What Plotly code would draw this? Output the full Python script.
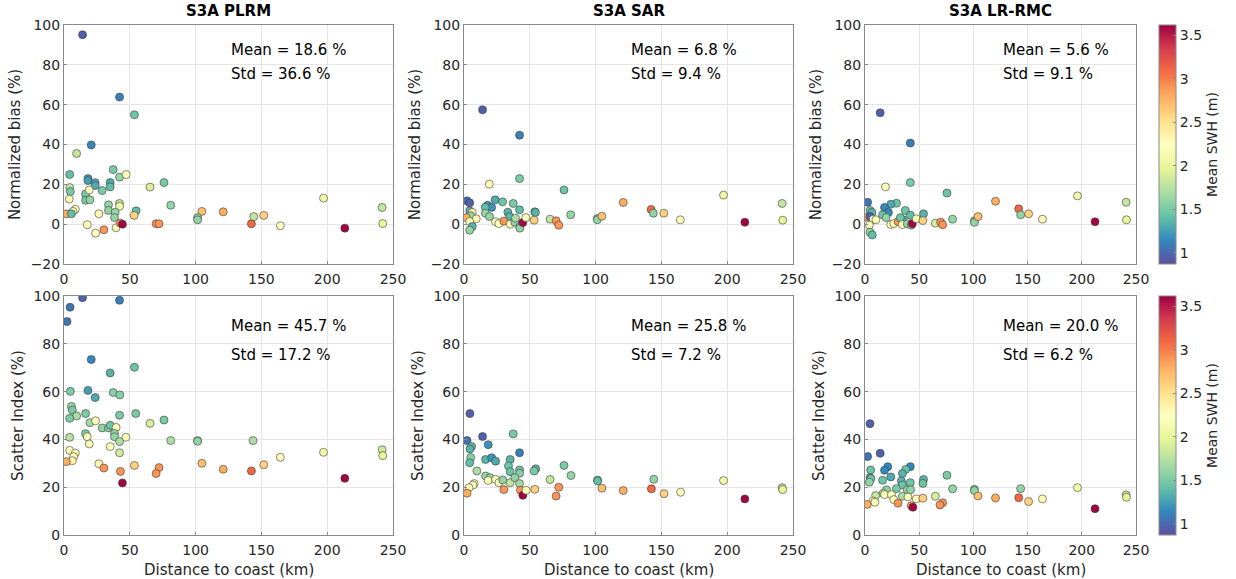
import plotly.graph_objects as go

# ---------------- data ----------------
titles = ["S3A PLRM", "S3A SAR", "S3A LR-RMC"]
bias_mean = [18.6, 6.8, 5.6]
bias_std = [36.6, 9.4, 9.1]
si_mean = [45.7, 25.8, 20.0]
si_std = [17.2, 7.2, 6.2]

# Panel: PLRM bias
plrm_bias_dist = [14.1, 42.2, 53.5, 20.7, 9.6, 4.3, 37.4, 42.2, 47.2, 18.2, 18.2, 23.7, 23.7, 35.1, 35.1, 29.0, 4.3, 4.8, 16.4, 19.2,
                  16.4, 19.7, 4.0, 65.4, 76.0, 81.1, 42.2, 42.2, 33.8, 33.8, 38.9, 54.8, 8.6, 6.8, 1.8, 5.6, 26.5, 38.4, 53.3, 17.7,
                  24.0, 30.3, 39.6, 42.7, 44.4, 70.0, 72.2, 104.8, 101.5, 101.5, 121.0, 142.4, 144.2, 151.8, 164.4, 197.2, 213.4, 241.7, 242.2]
plrm_bias_val = [95.1, 63.8, 54.9, 39.8, 35.5, 24.9, 27.4, 23.6, 24.9, 22.9, 21.9, 20.8, 19.4, 20.9, 18.7, 16.9, 18.4, 16.4, 15.2, 17.2,
                 12.0, 12.2, 12.6, 18.6, 20.9, 9.5, 10.4, 9.0, 9.7, 6.9, 6.0, 6.7, 7.5, 6.4, 5.2, 5.2, 5.2, 3.3, 4.4, -0.3,
                 -4.5, -2.8, -1.8, 0.5, 0.0, 0.2, 0.2, 6.4, 3.3, 2.2, 6.2, 0.2, 3.8, 4.4, -0.8, 13.1, -2.0, 8.4, 0.3]
plrm_bias_swh = [0.95, 1.1, 1.45, 1.15, 1.8, 1.4, 1.5, 1.6, 2.2, 1.25, 1.25, 1.3, 1.3, 1.3, 1.4, 1.5, 1.8, 1.5, 1.5, 2.2,
                 1.5, 1.6, 2.2, 1.9, 1.5, 1.6, 1.8, 2.1, 1.6, 1.6, 1.6, 1.4, 2.2, 2.2, 2.8, 1.4, 2.3, 1.6, 2.6, 2.2,
                 2.2, 2.9, 2.2, 2.9, 3.6, 2.9, 2.9, 2.7, 1.6, 1.6, 2.8, 3.1, 1.8, 2.6, 2.2, 2.1, 3.6, 1.8, 2.0]

# Panel: SAR bias
sar_bias_dist = [14.1, 42.2, 42.2, 19.2, 76.0, 2.3, 4.3, 23.7, 29.3, 37.4, 17.9, 21.0, 16.2, 42.2, 53.8, 54.3, 4.3, 33.3, 34.6, 16.2,
                 19.4, 6.3, 5.1, 1.8, 9.3, 4.3, 6.3, 4.3, 24.0, 26.5, 30.3, 35.1, 38.6, 39.1, 42.4, 42.4, 44.7, 47.0, 53.3, 65.4,
                 70.0, 72.0, 81.1, 101.3, 101.3, 104.8, 121.0, 142.2, 143.9, 151.8, 164.4, 197.2, 213.4, 241.7, 242.2]
sar_bias_val = [57.4, 44.7, 22.9, 20.1, 17.2, 11.7, 10.7, 12.2, 11.2, 10.4, 9.5, 8.4, 8.5, 7.2, 6.2, 5.9, 6.7, 6.0, 3.8, 5.5,
                3.8, 5.9, 4.2, 3.3, 2.7, 1.3, -1.2, -3.0, 1.2, 0.3, 1.5, 0.0, 1.0, 3.0, -1.2, -2.0, 0.8, 3.3, 2.0, 2.5,
                1.7, -0.5, 4.7, 2.8, 2.2, 4.0, 10.9, 7.4, 5.5, 5.5, 2.2, 14.6, 1.0, 10.4, 2.0]
sar_bias_swh = [0.95, 1.1, 1.5, 2.2, 1.45, 1.05, 0.95, 1.3, 1.45, 1.5, 1.2, 1.2, 1.4, 1.4, 1.35, 1.35, 1.35, 1.35, 1.35, 1.6,
                1.6, 2.4, 1.6, 2.8, 2.3, 2.2, 1.35, 1.6, 2.2, 2.2, 2.9, 2.2, 1.6, 1.7, 1.6, 1.6, 3.6, 2.2, 2.6, 1.8,
                2.9, 2.9, 1.6, 1.55, 1.6, 2.7, 2.8, 3.1, 1.6, 2.6, 2.2, 2.1, 3.6, 1.8, 2.0]

# Panel: LR-RMC bias
rmc_bias_dist = [14.0, 41.8, 41.8, 18.9, 75.6, 2.4, 29.0, 23.8, 18.0, 21.6, 37.2, 41.8, 54.0, 16.2, 19.5, 4.6, 6.4, 2.7, 4.6, 7.6,
                 10.1, 4.0, 4.6, 6.7, 23.8, 26.5, 30.5, 34.8, 32.6, 34.5, 39.0, 42.7, 43.6, 47.3, 53.4, 64.9, 69.8, 71.6, 80.8, 100.9,
                 100.9, 104.3, 120.4, 141.8, 143.6, 150.9, 163.7, 196.0, 212.2, 240.9, 241.2]
rmc_bias_val = [55.9, 40.7, 20.9, 18.7, 15.6, 11.0, 10.5, 10.0, 8.4, 5.9, 6.9, 4.5, 5.2, 4.7, 3.3, 6.9, 5.9, 3.5, 3.8, 2.5,
                2.2, -0.5, -4.0, -5.4, -0.2, 0.3, 1.3, 2.3, 3.2, -0.2, 0.2, -0.5, 0.2, 2.7, 1.8, 0.5, 1.0, -0.3, 2.5, 1.7,
                0.9, 3.8, 11.5, 7.7, 4.7, 5.2, 2.5, 14.2, 1.2, 11.0, 2.2]
rmc_bias_swh = [0.95, 1.1, 1.5, 2.2, 1.45, 1.05, 1.45, 1.3, 1.15, 1.15, 1.45, 1.4, 1.35, 1.45, 1.6, 1.45, 1.35, 2.8, 0.95, 2.2,
                2.2, 2.2, 1.6, 1.4, 2.2, 2.2, 2.9, 1.35, 1.45, 2.2, 1.6, 1.6, 3.6, 2.2, 2.6, 1.9, 2.9, 2.9, 1.6, 1.55,
                1.6, 2.7, 2.8, 3.1, 1.6, 2.6, 2.2, 2.1, 3.6, 1.8, 2.0]

# Panel: PLRM scatter index
plrm_si_dist = [14.1, 42.2, 4.6, 2.3, 20.7, 35.1, 53.5, 4.8, 18.2, 23.7, 37.4, 42.4, 5.6, 6.3, 9.6, 16.4, 4.3, 42.2, 54.5, 65.4,
                76.0, 19.7, 24.0, 29.0, 33.8, 35.1, 39.6, 38.4, 38.4, 16.4, 17.7, 47.0, 42.2, 4.3, 81.1, 101.5, 101.5, 143.7, 19.2, 35.1,
                42.2, 4.3, 8.6, 7.3, 6.3, 1.8, 26.5, 30.3, 42.9, 44.4, 53.5, 72.2, 70.0, 104.8, 121.0, 142.4, 151.8, 164.4, 197.2, 213.4,
                241.7, 242.2]
plrm_si_val = [99.3, 98.2, 95.3, 89.3, 73.4, 67.8, 70.2, 60.1, 60.5, 57.5, 59.6, 58.6, 53.8, 52.3, 49.8, 50.8, 48.8, 50.1, 50.8, 46.7,
               48.1, 47.0, 47.8, 44.8, 44.8, 45.9, 45.0, 42.5, 41.1, 42.4, 41.1, 40.9, 39.1, 40.9, 39.5, 39.5, 39.2, 39.5, 38.1, 37.0,
               34.4, 35.4, 34.3, 32.8, 31.1, 30.7, 29.8, 28.0, 26.6, 21.8, 29.1, 28.2, 25.7, 30.0, 27.5, 26.8, 29.4, 32.5, 34.6, 23.7,
               35.7, 33.2]
plrm_si_swh = [0.95, 1.1, 1.05, 1.05, 1.15, 1.35, 1.45, 1.5, 1.25, 1.3, 1.55, 1.55, 1.6, 1.5, 1.7, 1.5, 1.5, 1.5, 1.5, 1.9,
               1.5, 1.65, 2.2, 1.6, 1.55, 1.45, 2.2, 1.6, 1.6, 1.5, 2.2, 2.2, 1.7, 1.75, 1.7, 1.65, 1.6, 1.7, 2.2, 2.2,
               1.85, 2.2, 2.2, 2.3, 2.3, 2.8, 2.3, 2.9, 2.9, 3.6, 2.6, 2.9, 2.9, 2.7, 2.8, 3.1, 2.6, 2.2, 2.1, 3.6,
               1.85, 2.0]

# Panel: SAR scatter index
sar_si_dist = [4.5, 2.3, 14.1, 18.4, 37.4, 5.8, 4.5, 42.2, 5.1, 4.3, 16.4, 21.0, 24.0, 35.1, 33.8, 35.1, 42.2, 42.2, 54.5, 53.3,
               76.0, 9.8, 16.4, 19.7, 18.4, 24.0, 26.5, 29.5, 35.1, 38.6, 42.2, 7.8, 6.8, 3.8, 2.3, 30.3, 42.9, 44.7, 47.2, 53.8,
               65.4, 72.0, 70.0, 81.3, 101.5, 101.5, 104.8, 121.0, 142.4, 144.2, 152.0, 164.6, 197.2, 213.4, 241.7, 242.2]
sar_si_val = [50.8, 39.5, 41.2, 37.8, 42.3, 37.0, 36.0, 34.4, 32.4, 30.2, 31.6, 32.3, 30.9, 31.6, 28.9, 26.5, 27.2, 25.8, 27.7, 26.8,
              29.1, 26.8, 24.7, 24.0, 22.8, 23.3, 21.9, 23.0, 21.9, 24.0, 21.5, 21.5, 20.9, 19.8, 17.5, 19.0, 18.7, 16.6, 18.7, 19.1,
              23.2, 20.0, 16.3, 24.9, 23.0, 22.6, 19.6, 18.6, 19.3, 23.3, 17.3, 17.9, 22.8, 15.1, 19.8, 19.0]
sar_si_swh = [0.95, 1.05, 0.95, 1.2, 1.5, 1.4, 1.35, 1.1, 1.55, 1.4, 1.35, 1.2, 1.3, 1.35, 1.45, 1.45, 1.45, 1.55, 1.35, 1.5,
              1.5, 1.7, 1.6, 1.6, 2.2, 2.2, 2.2, 1.6, 1.8, 1.6, 1.65, 2.2, 2.2, 2.3, 2.8, 2.9, 2.9, 3.6, 2.2, 2.6,
              1.8, 2.9, 2.9, 1.6, 1.6, 1.4, 2.7, 2.8, 3.1, 1.6, 2.6, 2.2, 2.1, 3.6, 1.8, 2.0]

# Panel: LR-RMC scatter index
rmc_si_dist = [4.6, 2.4, 14.0, 21.0, 18.0, 41.8, 37.5, 34.5, 5.2, 4.6, 5.5, 4.0, 23.8, 16.2, 33.5, 34.5, 41.8, 54.0, 53.4, 75.6,
               29.0, 19.8, 39.0, 42.0, 16.8, 18.0, 24.4, 26.5, 34.5, 39.6, 47.3, 53.4, 9.8, 7.6, 9.1, 2.1, 30.5, 42.7, 44.2, 64.9,
               80.8, 71.6, 69.2, 100.9, 100.9, 104.3, 120.4, 141.8, 143.6, 150.9, 163.7, 196.0, 212.2, 240.9, 241.2]
rmc_si_val = [46.6, 32.8, 34.2, 28.6, 27.1, 28.6, 27.4, 25.7, 27.2, 24.0, 23.6, 22.1, 24.3, 22.9, 22.6, 20.9, 21.9, 23.2, 21.6, 25.0,
              19.4, 18.9, 18.9, 18.9, 17.5, 16.9, 16.9, 14.8, 16.2, 15.9, 15.1, 15.4, 16.5, 14.2, 13.7, 12.8, 13.3, 12.2, 11.6, 16.2,
              19.3, 13.5, 12.6, 19.1, 18.6, 16.3, 15.5, 15.6, 19.4, 14.0, 15.1, 19.8, 11.0, 16.8, 15.8]
rmc_si_swh = [0.95, 1.05, 0.95, 1.15, 1.15, 1.15, 1.45, 1.35, 1.45, 1.3, 1.45, 1.6, 1.3, 1.45, 1.35, 1.45, 1.45, 1.35, 1.45, 1.5,
              1.5, 1.6, 1.6, 1.6, 1.7, 2.2, 2.2, 2.2, 1.7, 2.2, 2.2, 2.6, 1.8, 2.2, 2.2, 2.8, 2.9, 2.9, 3.6, 1.9,
              1.6, 2.9, 2.9, 1.55, 1.6, 2.7, 2.8, 3.1, 1.6, 2.6, 2.2, 2.1, 3.6, 1.8, 2.0]

x_ticks = [0, 50, 100, 150, 200, 250]
bias_ticks = [-20, 0, 20, 40, 60, 80, 100]
si_ticks = [0, 20, 40, 60, 80, 100]
cbar_ticks = [1, 1.5, 2, 2.5, 3, 3.5]
swh_range = [0.87, 3.62]

# ---------------- layout geometry ----------------
W, H = 1236, 579
col_px = [(64, 393), (464, 793), (865, 1136)]
row_px = [(25, 264), (296, 535)]

def xd(c):
    a, b = col_px[c]
    return [a / W, b / W]

def yd(r):
    a, b = row_px[r]
    return [1 - b / H, 1 - a / H]

FONT = "DejaVu Sans"
TXT = "#262626"
AXC = "#8a8a8a"
GRID = "#e6e6e6"

fig = go.Figure()

panels = [
    (0, 0, plrm_bias_dist, plrm_bias_val, plrm_bias_swh),
    (0, 1, sar_bias_dist, sar_bias_val, sar_bias_swh),
    (0, 2, rmc_bias_dist, rmc_bias_val, rmc_bias_swh),
    (1, 0, plrm_si_dist, plrm_si_val, plrm_si_swh),
    (1, 1, sar_si_dist, sar_si_val, sar_si_swh),
    (1, 2, rmc_si_dist, rmc_si_val, rmc_si_swh),
]

layout = dict(
    width=W, height=H, margin=dict(l=0, r=0, t=0, b=0, autoexpand=False),
    paper_bgcolor="white", plot_bgcolor="white",
    font=dict(family=FONT, size=14, color=TXT),
    showlegend=False,
)

annotations = []
for k, (r, c, xs, ys, cs) in enumerate(panels):
    idx = k + 1
    xa = "x" if idx == 1 else f"x{idx}"
    ya = "y" if idx == 1 else f"y{idx}"
    fig.add_trace(go.Scatter(
        x=xs, y=ys, mode="markers", xaxis=xa, yaxis=ya,
        marker=dict(size=8, color=cs, coloraxis="coloraxis" if r == 0 else "coloraxis2",
                    line=dict(color="#3a3a3a", width=0.6)),
        hoverinfo="skip",
    ))
    xkey = "xaxis" if idx == 1 else f"xaxis{idx}"
    ykey = "yaxis" if idx == 1 else f"yaxis{idx}"
    layout[xkey] = dict(
        domain=xd(c), anchor=ya, range=[0, 250], tickvals=x_ticks,
        showgrid=True, gridcolor=GRID, zeroline=False,
        showline=True, linecolor=AXC, linewidth=1, mirror=True,
        ticks="inside", ticklen=3, tickcolor=AXC, ticklabelstandoff=2,
        tickfont=dict(size=14, color=TXT), automargin=False,
    )
    layout[ykey] = dict(
        domain=yd(r), anchor=xa, range=[-20, 100] if r == 0 else [0, 100],
        tickvals=bias_ticks if r == 0 else si_ticks,
        showgrid=True, gridcolor=GRID, zeroline=False,
        showline=True, linecolor=AXC, linewidth=1, mirror=True,
        ticks="inside", ticklen=3, tickcolor=AXC,
        tickfont=dict(size=14, color=TXT), automargin=False,
        title=dict(text="Normalized bias (%)" if r == 0 else "Scatter Index (%)",
                   font=dict(size=15, color=TXT), standoff=6),
    )
    mean = bias_mean[c] if r == 0 else si_mean[c]
    std = bias_std[c] if r == 0 else si_std[c]
    annotations.append(dict(x=125, y=87.5, xref=xa, yref=ya, xanchor="left", yanchor="middle",
                            text=f"Mean = {mean:.1f} %", showarrow=False, font=dict(size=15, color="black")))
    annotations.append(dict(x=125, y=75.5, xref=xa, yref=ya, xanchor="left", yanchor="middle",
                            text=f"Std = {std:.1f} %", showarrow=False, font=dict(size=15, color="black")))
    a, b = col_px[c]
    if r == 0:
        annotations.append(dict(x=(a + b) / 2 / W, y=1 - 11 / H, xref="paper", yref="paper",
                                xanchor="center", yanchor="middle", showarrow=False,
                                text=f"<b>{titles[c]}</b>", font=dict(size=15, color="black")))
    else:
        annotations.append(dict(x=(a + b) / 2 / W, y=1 - 570 / H, xref="paper", yref="paper",
                                xanchor="center", yanchor="middle", showarrow=False,
                                text="Distance to coast (km)", font=dict(size=15, color=TXT)))

def cbar(r):
    a, b = row_px[r]
    return dict(
        colorscale="Spectral_r", cmin=swh_range[0], cmax=swh_range[1],
        colorbar=dict(
            x=1159 / W, xanchor="left", y=1 - a / H, yanchor="top",
            len=(b - a) / H, lenmode="fraction", thickness=17, xpad=0, ypad=0,
            outlinecolor=AXC, outlinewidth=1,
            tickvals=cbar_ticks, ticktext=[str(t) for t in cbar_ticks],
            ticks="inside", ticklen=3, tickcolor=AXC,
            tickfont=dict(size=14, color=TXT),
            title=dict(text="Mean SWH (m)", side="right", font=dict(size=14, color=TXT)),
        ),
    )

layout["coloraxis"] = cbar(0)
layout["coloraxis2"] = cbar(1)
layout["annotations"] = annotations
fig.update_layout(**layout)
fig.write_html("out.html")
